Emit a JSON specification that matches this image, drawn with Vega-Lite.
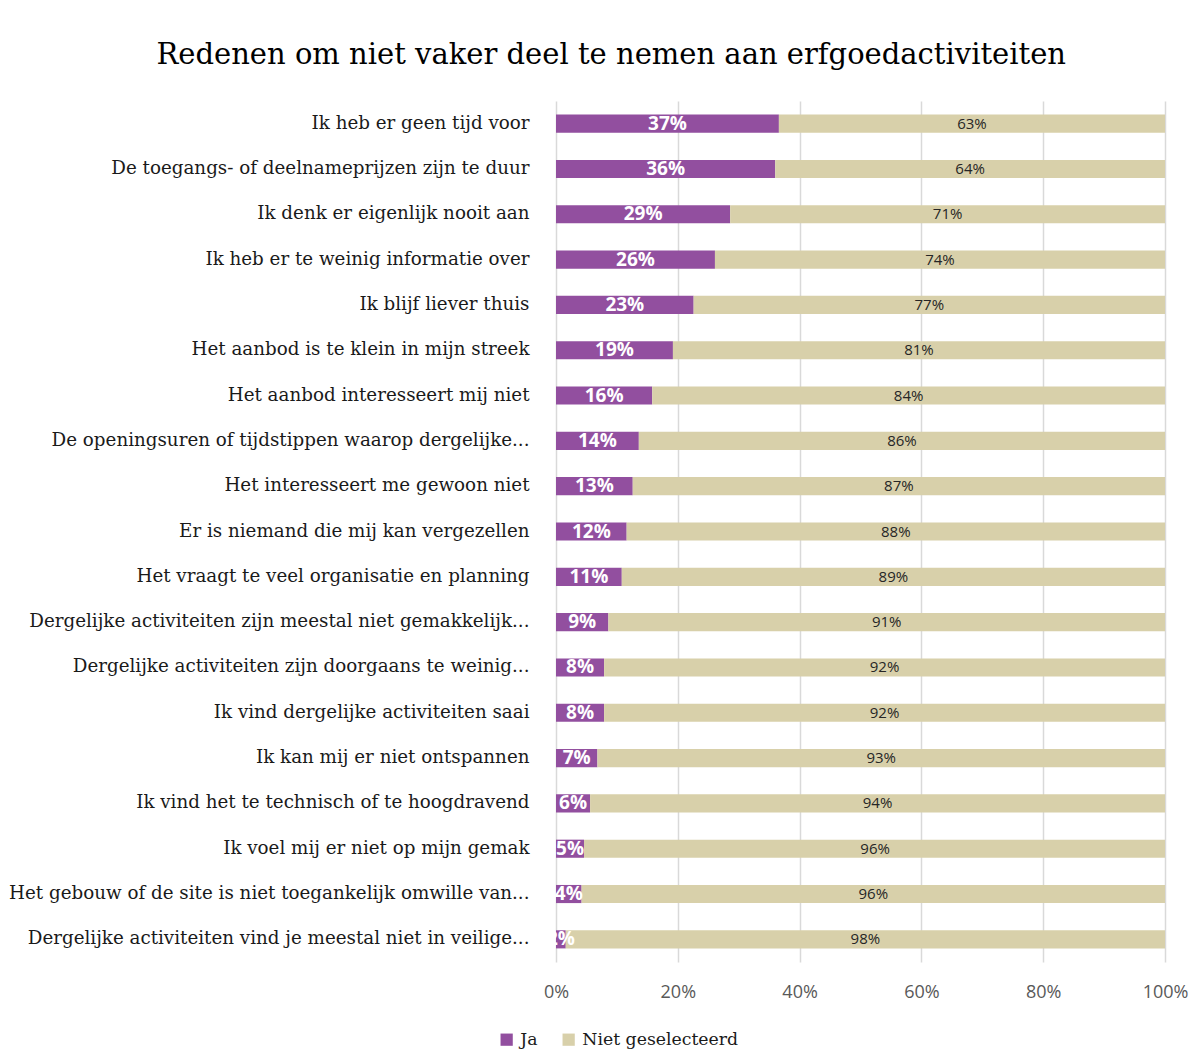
{
  "$schema": "https://vega.github.io/schema/vega-lite/v6.json",
  "autosize": "none",
  "width": 609,
  "height": 861,
  "padding": {"left": 556, "top": 101, "right": 39, "bottom": 102},
  "background": "white",
  "title": {
    "text": "Redenen om niet vaker deel te nemen aan erfgoedactiviteiten",
    "font": "DejaVu Serif",
    "fontSize": 29,
    "fontWeight": "normal",
    "color": "#000000",
    "anchor": "middle",
    "frame": "bounds",
    "offset": 31,
    "dx": 13
  },
  "data": {
    "values": [
      {"reden": "Ik heb er geen tijd voor", "answer": "Ja", "value": 0.366},
      {"reden": "Ik heb er geen tijd voor", "answer": "Niet geselecteerd", "value": 0.634},
      {"reden": "De toegangs- of deelnameprijzen zijn te duur", "answer": "Ja", "value": 0.360},
      {"reden": "De toegangs- of deelnameprijzen zijn te duur", "answer": "Niet geselecteerd", "value": 0.640},
      {"reden": "Ik denk er eigenlijk nooit aan", "answer": "Ja", "value": 0.286},
      {"reden": "Ik denk er eigenlijk nooit aan", "answer": "Niet geselecteerd", "value": 0.714},
      {"reden": "Ik heb er te weinig informatie over", "answer": "Ja", "value": 0.261},
      {"reden": "Ik heb er te weinig informatie over", "answer": "Niet geselecteerd", "value": 0.739},
      {"reden": "Ik blijf liever thuis", "answer": "Ja", "value": 0.226},
      {"reden": "Ik blijf liever thuis", "answer": "Niet geselecteerd", "value": 0.774},
      {"reden": "Het aanbod is te klein in mijn streek", "answer": "Ja", "value": 0.192},
      {"reden": "Het aanbod is te klein in mijn streek", "answer": "Niet geselecteerd", "value": 0.808},
      {"reden": "Het aanbod interesseert mij niet", "answer": "Ja", "value": 0.158},
      {"reden": "Het aanbod interesseert mij niet", "answer": "Niet geselecteerd", "value": 0.842},
      {"reden": "De openingsuren of tijdstippen waarop dergelijke...", "answer": "Ja", "value": 0.136},
      {"reden": "De openingsuren of tijdstippen waarop dergelijke...", "answer": "Niet geselecteerd", "value": 0.864},
      {"reden": "Het interesseert me gewoon niet", "answer": "Ja", "value": 0.126},
      {"reden": "Het interesseert me gewoon niet", "answer": "Niet geselecteerd", "value": 0.874},
      {"reden": "Er is niemand die mij kan vergezellen", "answer": "Ja", "value": 0.116},
      {"reden": "Er is niemand die mij kan vergezellen", "answer": "Niet geselecteerd", "value": 0.884},
      {"reden": "Het vraagt te veel organisatie en planning", "answer": "Ja", "value": 0.108},
      {"reden": "Het vraagt te veel organisatie en planning", "answer": "Niet geselecteerd", "value": 0.892},
      {"reden": "Dergelijke activiteiten zijn meestal niet gemakkelijk...", "answer": "Ja", "value": 0.086},
      {"reden": "Dergelijke activiteiten zijn meestal niet gemakkelijk...", "answer": "Niet geselecteerd", "value": 0.914},
      {"reden": "Dergelijke activiteiten zijn doorgaans te weinig...", "answer": "Ja", "value": 0.079},
      {"reden": "Dergelijke activiteiten zijn doorgaans te weinig...", "answer": "Niet geselecteerd", "value": 0.921},
      {"reden": "Ik vind dergelijke activiteiten saai", "answer": "Ja", "value": 0.079},
      {"reden": "Ik vind dergelijke activiteiten saai", "answer": "Niet geselecteerd", "value": 0.921},
      {"reden": "Ik kan mij er niet ontspannen", "answer": "Ja", "value": 0.068},
      {"reden": "Ik kan mij er niet ontspannen", "answer": "Niet geselecteerd", "value": 0.932},
      {"reden": "Ik vind het te technisch of te hoogdravend", "answer": "Ja", "value": 0.056},
      {"reden": "Ik vind het te technisch of te hoogdravend", "answer": "Niet geselecteerd", "value": 0.944},
      {"reden": "Ik voel mij er niet op mijn gemak", "answer": "Ja", "value": 0.046},
      {"reden": "Ik voel mij er niet op mijn gemak", "answer": "Niet geselecteerd", "value": 0.956},
      {"reden": "Het gebouw of de site is niet toegankelijk omwille van...", "answer": "Ja", "value": 0.042},
      {"reden": "Het gebouw of de site is niet toegankelijk omwille van...", "answer": "Niet geselecteerd", "value": 0.958},
      {"reden": "Dergelijke activiteiten vind je meestal niet in veilige...", "answer": "Ja", "value": 0.016},
      {"reden": "Dergelijke activiteiten vind je meestal niet in veilige...", "answer": "Niet geselecteerd", "value": 0.984}
    ]
  },
  "encoding": {
    "y": {
      "field": "reden",
      "type": "nominal",
      "sort": null,
      "scale": {"paddingInner": 0.6, "paddingOuter": 0.3},
      "axis": {
        "title": null,
        "domain": false,
        "ticks": false,
        "grid": false,
        "labelFont": "DejaVu Serif",
        "labelFontSize": 18.3,
        "labelColor": "#1a1a1a",
        "labelPadding": 27,
        "labelLimit": 600
      }
    },
    "x": {
      "field": "value",
      "type": "quantitative",
      "stack": "zero",
      "scale": {"domain": [0, 1], "clamp": true, "nice": false},
      "axis": {
        "title": null,
        "format": ".0%",
        "values": [0, 0.2, 0.4, 0.6, 0.8, 1],
        "domain": false,
        "ticks": false,
        "grid": true,
        "gridColor": "#d9d9d9",
        "gridWidth": 1.5,
        "labelFlush": false,
        "labelFont": "Open Sans",
        "labelFontSize": 18,
        "labelColor": "#595959",
        "labelPadding": 21
      }
    },
    "order": {"field": "answer", "sort": "ascending"}
  },
  "layer": [
    {
      "mark": {"type": "bar"},
      "encoding": {
        "color": {
          "field": "answer",
          "type": "nominal",
          "scale": {"domain": ["Ja", "Niet geselecteerd"], "range": ["#924f9f", "#d8d0aa"]},
          "legend": {
            "title": null,
            "orient": "none",
            "direction": "horizontal",
            "legendX": -58,
            "legendY": 930,
            "symbolType": "square",
            "symbolSize": 150,
            "symbolStrokeWidth": 0,
            "labelFont": "DejaVu Serif",
            "labelFontSize": 17.3,
            "labelColor": "#1a1a1a",
            "labelLimit": 400,
            "columnPadding": 22,
            "labelOffset": 5
          }
        }
      }
    },
    {
      "mark": {"type": "text", "font": "Open Sans", "fontSize": 19, "fontWeight": "bold", "color": "#ffffff", "align": "center", "baseline": "middle"},
      "encoding": {
        "x": {"field": "value", "type": "quantitative", "stack": "zero", "bandPosition": 0.5},
        "detail": {"field": "answer"},
        "text": {"condition": {"test": "datum.answer === 'Ja'", "field": "value", "format": ".0%"}, "value": ""}
      }
    },
    {
      "mark": {"type": "text", "font": "Open Sans", "fontSize": 15, "color": "#262626", "align": "center", "baseline": "middle"},
      "encoding": {
        "x": {"field": "value", "type": "quantitative", "stack": "zero", "bandPosition": 0.5},
        "detail": {"field": "answer"},
        "text": {"condition": {"test": "datum.answer !== 'Ja'", "field": "value", "format": ".0%"}, "value": ""}
      }
    }
  ],
  "config": {
    "view": {"stroke": null}
  }
}
